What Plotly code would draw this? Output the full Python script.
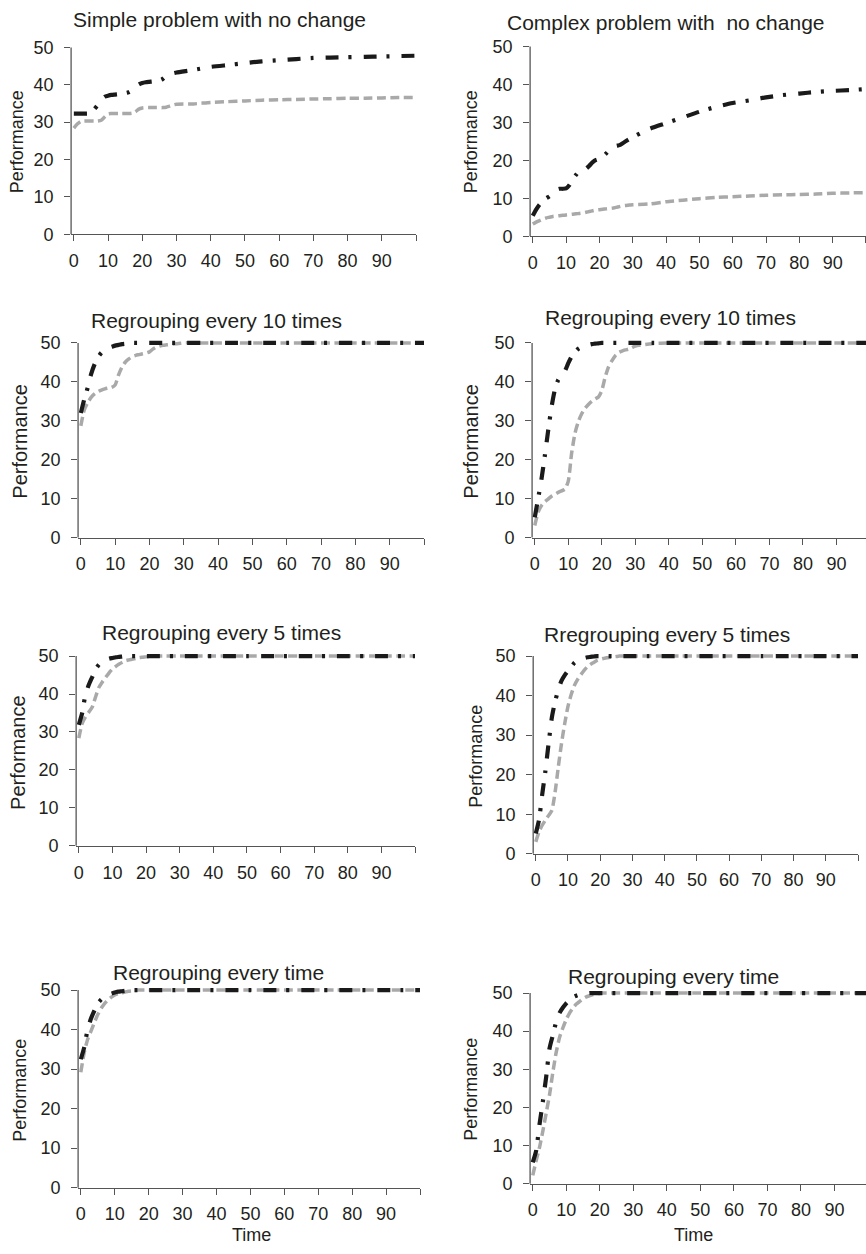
import plotly.graph_objects as go

W, H = 866, 1254

# ---------------- data ----------------
TIME = [0, 1, 2, 3, 4, 5, 6, 7, 8, 9, 10, 11, 12, 13, 14, 15, 16, 17, 18, 19, 20,
        21, 22, 23, 24, 25, 26, 27, 28, 29, 30,
        35, 40, 45, 50, 55, 60, 65, 70, 75, 80, 85, 90, 95, 100]

X_TICK_VALUES = [0, 10, 20, 30, 40, 50, 60, 70, 80, 90, 100]
X_TICK_LABELS = ["0", "10", "20", "30", "40", "50", "60", "70", "80", "90", ""]
Y_TICK_VALUES = [0, 10, 20, 30, 40, 50]
Y_TICK_LABELS = ["0", "10", "20", "30", "40", "50"]

TITLES = [
    "Simple problem with no change",
    "Complex problem with  no change",
    "Regrouping every 10 times",
    "Regrouping every 10 times",
    "Regrouping every 5 times",
    "Rregrouping every 5 times",
    "Regrouping every time",
    "Regrouping every time",
]

simple_nochange_black = [32.3, 32.3, 32.3, 32.3, 32.3, 32.5, 33.5, 34.6, 36.0, 36.8, 37.1,
                         37.3, 37.4, 37.5, 37.6, 37.8, 38.0, 38.5, 39.3, 40.1, 40.5,
                         40.7, 40.8, 40.9, 41.0, 41.2, 41.6, 42.4, 42.9, 43.1, 43.3,
                         44.0, 44.8, 45.3, 45.8, 46.3, 46.6, 46.9, 47.2, 47.3, 47.4, 47.5, 47.6, 47.7, 47.8]
simple_nochange_gray = [28.4, 29.5, 30.2, 30.3, 30.3, 30.3, 30.3, 30.3, 30.5, 31.4, 32.2,
                        32.3, 32.3, 32.3, 32.3, 32.3, 32.3, 32.4, 32.8, 33.5, 33.8,
                        33.9, 33.9, 33.9, 33.9, 33.9, 33.9, 34.0, 34.3, 34.6, 34.8,
                        34.9, 35.3, 35.5, 35.7, 35.9, 36.0, 36.1, 36.2, 36.3, 36.4, 36.4, 36.5, 36.6, 36.6]

complex_nochange_black = [5.4, 7.0, 8.3, 9.3, 10.0, 10.5, 11.2, 12.2, 12.5, 12.5, 12.6,
                          13.5, 15.0, 16.2, 17.3, 17.7, 17.8, 18.6, 19.5, 20.1, 20.4,
                          21.0, 21.8, 22.7, 23.5, 23.8, 24.0, 24.5, 25.1, 25.6, 26.1,
                          28.3, 29.8, 31.3, 32.8, 34.1, 35.1, 35.8, 36.6, 37.2, 37.6, 38.0, 38.3, 38.5, 38.8]
complex_nochange_gray = [3.2, 3.7, 4.1, 4.5, 4.8, 5.0, 5.2, 5.3, 5.4, 5.5, 5.6,
                         5.7, 5.8, 5.9, 6.0, 6.1, 6.3, 6.5, 6.7, 6.9, 7.0,
                         7.1, 7.2, 7.3, 7.4, 7.6, 7.8, 8.0, 8.1, 8.2, 8.3,
                         8.5, 9.1, 9.5, 9.9, 10.2, 10.4, 10.6, 10.8, 10.9, 11.0, 11.1, 11.3, 11.4, 11.5]

simple_regroup10_black = [32.0, 35.5, 38.5, 42.0, 44.5, 46.3, 47.5, 48.2, 48.7, 49.0, 49.3,
                          49.5, 49.7, 49.8, 49.9, 50.0, 50.0, 50.0, 50.0, 50.0, 50.0,
                          50.0, 50.0, 50.0, 50.0, 50.0, 50.0, 50.0, 50.0, 50.0, 50.0,
                          50.0, 50.0, 50.0, 50.0, 50.0, 50.0, 50.0, 50.0, 50.0, 50.0, 50.0, 50.0, 50.0, 50.0]
simple_regroup10_gray = [28.7, 32.8, 34.6, 36.0, 36.9, 37.5, 37.9, 38.2, 38.4, 38.6, 39.2,
                         41.8, 43.8, 45.1, 45.9, 46.5, 46.8, 47.0, 47.2, 47.4, 47.7,
                         48.4, 48.9, 49.2, 49.4, 49.5, 49.6, 49.7, 49.8, 49.9, 50.0,
                         50.0, 50.0, 50.0, 50.0, 50.0, 50.0, 50.0, 50.0, 50.0, 50.0, 50.0, 50.0, 50.0, 50.0]

complex_regroup10_black = [5.2, 10.0, 15.0, 21.0, 27.5, 33.5, 38.0, 40.5, 41.8, 42.8, 44.8,
                           46.5, 47.6, 48.5, 49.0, 49.3, 49.5, 49.7, 49.8, 49.9, 50.0,
                           50.0, 50.0, 50.0, 50.0, 50.0, 50.0, 50.0, 50.0, 50.0, 50.0,
                           50.0, 50.0, 50.0, 50.0, 50.0, 50.0, 50.0, 50.0, 50.0, 50.0, 50.0, 50.0, 50.0, 50.0]
complex_regroup10_gray = [3.1, 6.5, 8.2, 9.2, 9.9, 10.6, 11.1, 11.6, 12.0, 12.4, 14.5,
                          21.7, 26.8, 29.8, 31.8, 33.2, 34.2, 35.0, 35.6, 36.1, 37.8,
                          41.2, 43.8, 45.4, 46.7, 47.5, 47.9, 48.2, 48.4, 48.8, 49.2,
                          49.8, 50.0, 50.0, 50.0, 50.0, 50.0, 50.0, 50.0, 50.0, 50.0, 50.0, 50.0, 50.0, 50.0]

simple_regroup5_black = [31.9, 35.0, 40.0, 42.5, 44.5, 46.5, 47.8, 48.5, 49.0, 49.3, 49.5,
                         49.7, 49.8, 49.9, 50.0, 50.0, 50.0, 50.0, 50.0, 50.0, 50.0,
                         50.0, 50.0, 50.0, 50.0, 50.0, 50.0, 50.0, 50.0, 50.0, 50.0,
                         50.0, 50.0, 50.0, 50.0, 50.0, 50.0, 50.0, 50.0, 50.0, 50.0, 50.0, 50.0, 50.0, 50.0]
simple_regroup5_gray = [28.4, 32.3, 34.0, 35.3, 36.6, 39.3, 41.8, 43.2, 44.4, 45.6, 46.6,
                        47.3, 47.9, 48.4, 48.8, 49.0, 49.2, 49.4, 49.6, 49.7, 49.8,
                        49.9, 50.0, 50.0, 50.0, 50.0, 50.0, 50.0, 50.0, 50.0, 50.0,
                        50.0, 50.0, 50.0, 50.0, 50.0, 50.0, 50.0, 50.0, 50.0, 50.0, 50.0, 50.0, 50.0, 50.0]

complex_regroup5_black = [5.1, 8.5, 15.0, 21.0, 28.0, 34.5, 38.5, 41.5, 43.8, 45.2, 46.3,
                          47.3, 48.3, 48.9, 49.3, 49.5, 49.7, 49.8, 49.9, 50.0, 50.0,
                          50.0, 50.0, 50.0, 50.0, 50.0, 50.0, 50.0, 50.0, 50.0, 50.0,
                          50.0, 50.0, 50.0, 50.0, 50.0, 50.0, 50.0, 50.0, 50.0, 50.0, 50.0, 50.0, 50.0, 50.0]
complex_regroup5_gray = [3.0, 5.5, 7.2, 8.5, 9.7, 11.0, 15.6, 22.0, 28.0, 33.0, 37.3,
                         40.3, 42.6, 44.1, 45.3, 46.4, 47.3, 47.9, 48.4, 48.9, 49.2,
                         49.4, 49.6, 49.7, 49.8, 49.9, 50.0, 50.0, 50.0, 50.0, 50.0,
                         50.0, 50.0, 50.0, 50.0, 50.0, 50.0, 50.0, 50.0, 50.0, 50.0, 50.0, 50.0, 50.0, 50.0]

simple_regroup1_black = [32.5, 35.5, 40.0, 42.8, 44.8, 46.6, 47.6, 48.3, 48.8, 49.1, 49.4,
                         49.6, 49.7, 49.8, 49.9, 50.0, 50.0, 50.0, 50.0, 50.0, 50.0,
                         50.0, 50.0, 50.0, 50.0, 50.0, 50.0, 50.0, 50.0, 50.0, 50.0,
                         50.0, 50.0, 50.0, 50.0, 50.0, 50.0, 50.0, 50.0, 50.0, 50.0, 50.0, 50.0, 50.0, 50.0]
simple_regroup1_gray = [29.2, 34.2, 37.5, 39.6, 41.8, 43.8, 45.4, 46.6, 47.5, 48.2, 48.8,
                        49.1, 49.3, 49.5, 49.7, 49.8, 49.9, 50.0, 50.0, 50.0, 50.0,
                        50.0, 50.0, 50.0, 50.0, 50.0, 50.0, 50.0, 50.0, 50.0, 50.0,
                        50.0, 50.0, 50.0, 50.0, 50.0, 50.0, 50.0, 50.0, 50.0, 50.0, 50.0, 50.0, 50.0, 50.0]

complex_regroup1_black = [5.6, 8.6, 15.5, 21.5, 28.0, 35.5, 39.0, 42.5, 44.8, 46.2, 47.3,
                          48.2, 48.9, 49.3, 49.6, 49.8, 49.9, 50.0, 50.0, 50.0, 50.0,
                          50.0, 50.0, 50.0, 50.0, 50.0, 50.0, 50.0, 50.0, 50.0, 50.0,
                          50.0, 50.0, 50.0, 50.0, 50.0, 50.0, 50.0, 50.0, 50.0, 50.0, 50.0, 50.0, 50.0, 50.0]
complex_regroup1_gray = [2.2, 6.0, 9.5, 13.8, 18.5, 23.3, 29.3, 34.5, 38.4, 40.9, 43.1,
                         44.8, 46.1, 47.1, 47.8, 48.5, 49.0, 49.3, 49.6, 49.8, 49.9,
                         50.0, 50.0, 50.0, 50.0, 50.0, 50.0, 50.0, 50.0, 50.0, 50.0,
                         50.0, 50.0, 50.0, 50.0, 50.0, 50.0, 50.0, 50.0, 50.0, 50.0, 50.0, 50.0, 50.0, 50.0]

BLACK_SERIES = [simple_nochange_black, complex_nochange_black,
                simple_regroup10_black, complex_regroup10_black,
                simple_regroup5_black, complex_regroup5_black,
                simple_regroup1_black, complex_regroup1_black]
GRAY_SERIES = [simple_nochange_gray, complex_nochange_gray,
               simple_regroup10_gray, complex_regroup10_gray,
               simple_regroup5_gray, complex_regroup5_gray,
               simple_regroup1_gray, complex_regroup1_gray]

# ---------------- layout geometry (pixels) ----------------
# (x pixel of t=0, x pixel of t=100, y pixel of value 0, y pixel of value 50)
PANELS = [
    (72, 415, 232, 43),
    (532, 866, 234, 42),
    (79, 423, 539, 342),
    (534, 870, 539, 342),
    (77, 414, 851, 659),
    (535, 858, 859, 659),
    (79, 419, 1197, 997),
    (532, 868, 1193, 1000),
]
TITLE_POS = [(218, 15), (666, 18), (215, 319), (670, 316),
             (220, 635), (667, 637), (217, 979), (673, 983)]
YTITLE_POS = [(15, 138), (470, 138), (18, 441), (470, 441),
              (16, 756), (475, 760), (18, 1098), (470, 1097)]
YTITLE_SIZE = [18, 18, 20, 20, 20, 18, 18, 18]
XTITLE_X = {6: 250, 7: 693}

FONT = "Liberation Sans, Arial, sans-serif"
TEXT_COLOR = "#231f20"
AXIS_COLOR = "#555555"
BLACK = "#1a1a1a"
GRAY = "#a9a9a9"
XMIN = -0.8
YMAX = 51.2

fig = go.Figure()
layout = dict(
    width=W, height=H,
    margin=dict(l=0, r=0, t=0, b=0),
    paper_bgcolor="white", plot_bgcolor="white",
    showlegend=False,
    font=dict(family=FONT, color=TEXT_COLOR),
)
annotations = []
shapes = []

for i, (x0, x100, y0, y50) in enumerate(PANELS):
    n = "" if i == 0 else str(i + 1)
    sx = (x100 - x0) / 100.0
    left_px = x0 + XMIN * sx
    right_px = min(x100, W)
    xmax = (right_px - x0) / sx
    sy = (y0 - y50) / 50.0
    top_px = y0 - YMAX * sy

    layout["xaxis" + n] = dict(
        domain=[left_px / W, right_px / W], range=[XMIN, xmax],
        anchor="y" + n,
        tickmode="array", tickvals=X_TICK_VALUES, ticktext=X_TICK_LABELS,
        ticks="outside", ticklen=6, tickwidth=1.3, tickcolor=AXIS_COLOR,
        showline=True, linecolor=AXIS_COLOR, linewidth=1.3,
        showgrid=False, zeroline=False,
        tickfont=dict(family=FONT, size=18, color=TEXT_COLOR),
        ticklabelstandoff=4,
    )
    layout["yaxis" + n] = dict(
        domain=[1 - y0 / H, 1 - top_px / H], range=[0, YMAX],
        anchor="x" + n,
        tickmode="array", tickvals=Y_TICK_VALUES, ticktext=Y_TICK_LABELS,
        ticks="outside", ticklen=6, tickwidth=1.3, tickcolor=AXIS_COLOR,
        showline=False, showgrid=False, zeroline=False,
        tickfont=dict(family=FONT, size=18, color=TEXT_COLOR),
        ticklabelstandoff=7,
    )
    shapes.append(dict(
        type="line", xref="x" + n + " domain", yref="y" + n + " domain",
        x0=0, x1=0, y0=0, y1=50.0 / YMAX,
        line=dict(color=AXIS_COLOR, width=1.3), layer="below",
    ))

    fig.add_trace(go.Scatter(
        x=TIME, y=GRAY_SERIES[i], mode="lines",
        line=dict(color=GRAY, width=3.5, dash="9px,4.5px", shape="spline", smoothing=0.6),
        xaxis="x" + n, yaxis="y" + n, hoverinfo="skip",
    ))
    fig.add_trace(go.Scatter(
        x=TIME, y=BLACK_SERIES[i], mode="lines",
        line=dict(color=BLACK, width=4.2, dash="13px,10px,3px,12px", shape="spline", smoothing=0.6),
        xaxis="x" + n, yaxis="y" + n, hoverinfo="skip",
    ))

    tx, ty = TITLE_POS[i]
    annotations.append(dict(
        text=TITLES[i], x=tx / W, y=1 - ty / H, xref="paper", yref="paper",
        xanchor="center", yanchor="middle", showarrow=False,
        font=dict(family=FONT, size=21, color=TEXT_COLOR),
    ))
    px_, py_ = YTITLE_POS[i]
    annotations.append(dict(
        text="Performance", x=px_ / W, y=1 - py_ / H, xref="paper", yref="paper",
        xanchor="center", yanchor="middle", showarrow=False, textangle=-90,
        font=dict(family=FONT, size=YTITLE_SIZE[i], color=TEXT_COLOR),
    ))
    if i in XTITLE_X:
        annotations.append(dict(
            text="Time", x=XTITLE_X[i] / W, y=-3.0 / H, xref="paper", yref="paper",
            xanchor="center", yanchor="bottom", showarrow=False,
            font=dict(family=FONT, size=18, color=TEXT_COLOR),
        ))

layout["annotations"] = annotations
layout["shapes"] = shapes
fig.update_layout(**layout)
fig.write_html("out.html")
